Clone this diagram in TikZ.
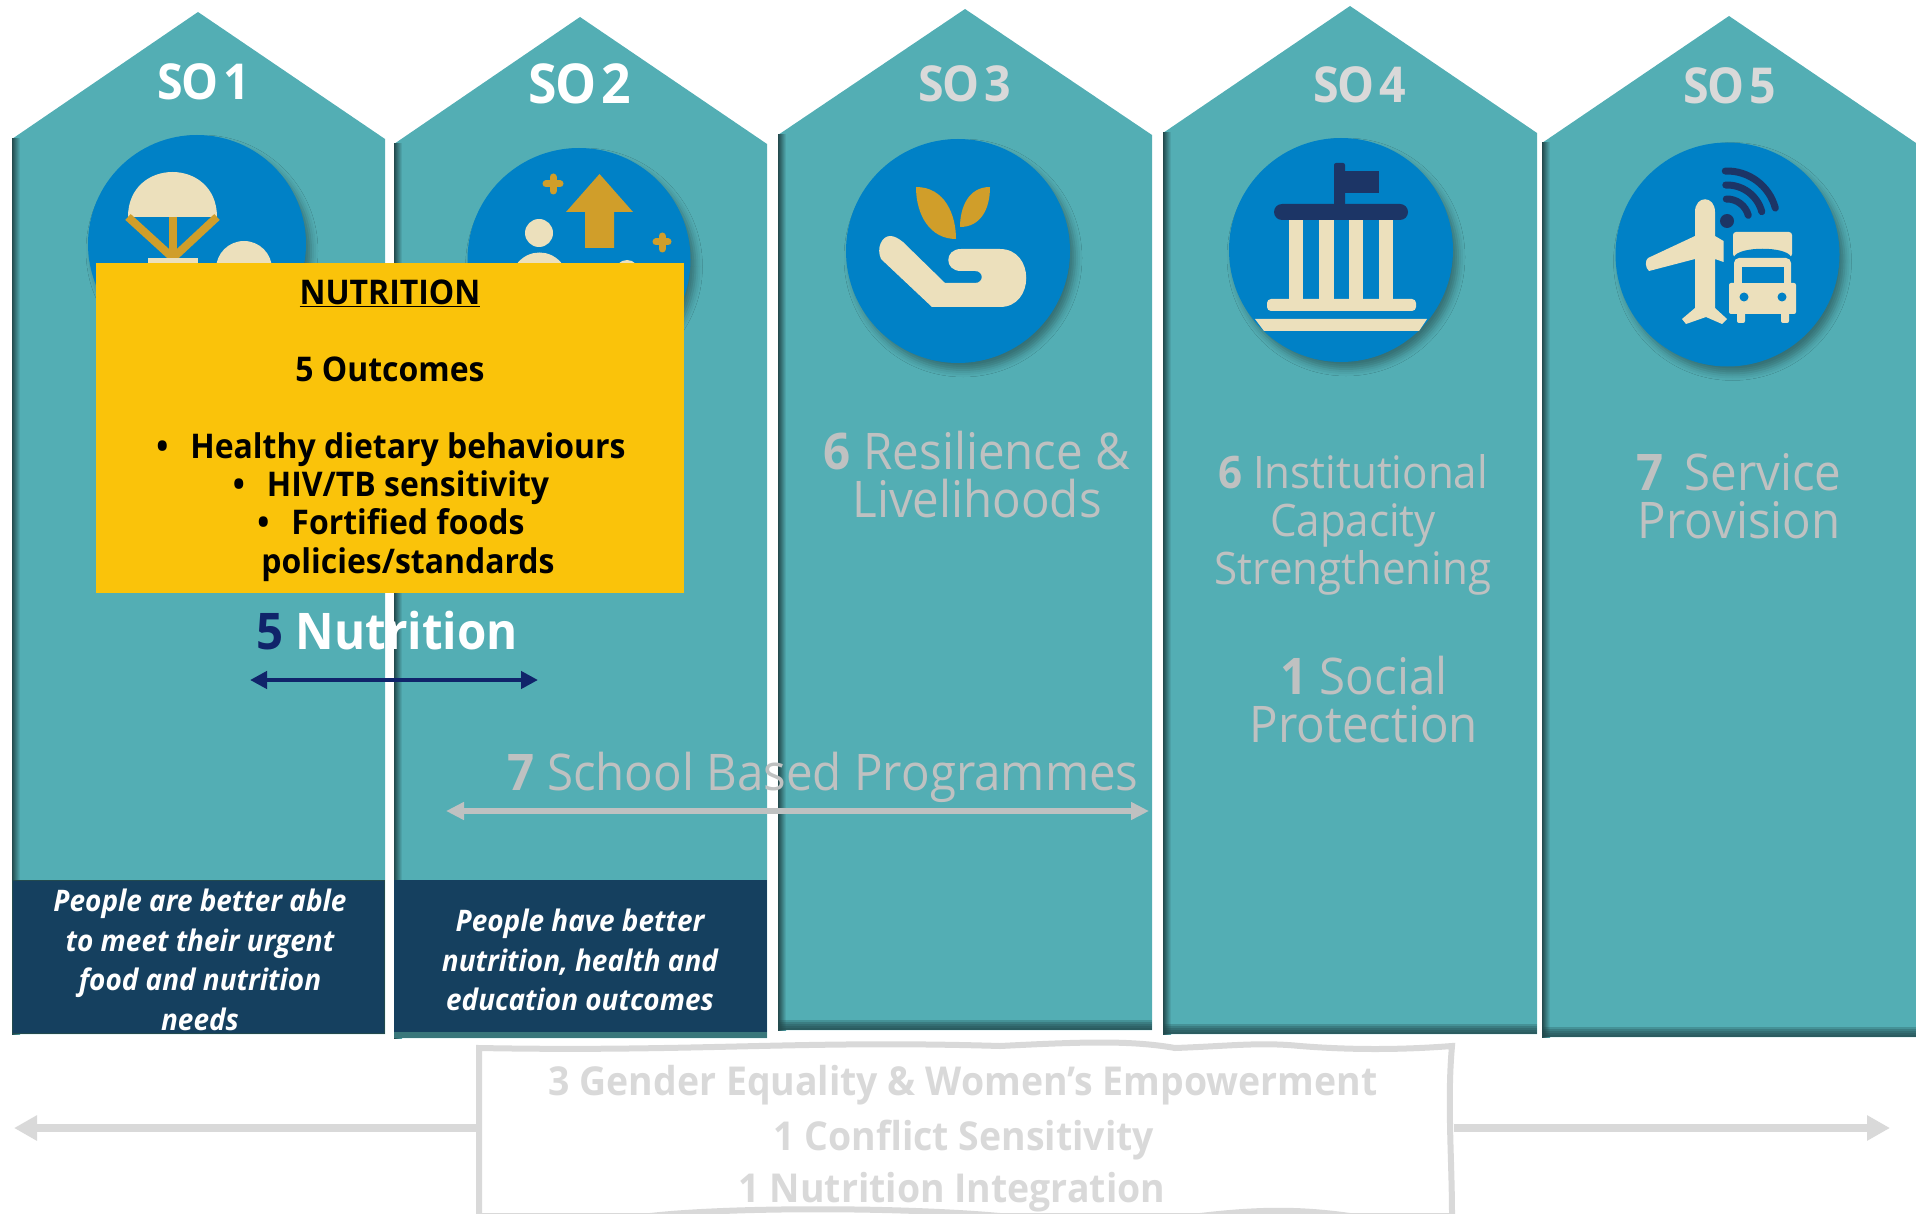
\documentclass[tikz,border=0pt]{standalone}
\usepackage{fontspec}
\setmainfont[FakeStretch=0.94]{Open Sans}
\newfontfamily\headfont[FakeStretch=0.94,LetterSpace=-3,WordSpace=0.45]{Open Sans}
\usepackage{xcolor}
\usetikzlibrary{arrows.meta}
\usetikzlibrary{shadows.blur}

\definecolor{housecol}{HTML}{53AEB4}
\definecolor{edgecol}{HTML}{234A4D}
\definecolor{disccol}{HTML}{0081C6}
\definecolor{creamcol}{HTML}{ECE0BC}
\definecolor{goldcol}{HTML}{D09E2A}
\definecolor{navycol}{HTML}{1C3566}
\definecolor{nutrcol}{HTML}{10246A}
\definecolor{boxcol}{HTML}{15405F}
\definecolor{yellowcol}{HTML}{FAC30A}
\definecolor{greycol}{HTML}{D9D9D9}
\definecolor{labelcol}{HTML}{BFC1C1}

\tikzset{
	sodisc/.style={fill=disccol, blur shadow={shadow xshift=5pt, shadow yshift=-7pt, shadow blur radius=7pt, shadow opacity=35}},
	sohead/.style={font=\headfont\bfseries\fontsize{49.5}{49.5}\selectfont},
	solabel/.style={labelcol, align=center, font=\fontsize{50.5}{48}\selectfont},
	edgeband/.style={edgecol, opacity=0.28},
	goalbox/.style={fill=boxcol, draw=edgecol, line width=1pt},
	goaltext/.style={white, align=center, font=\bfseries\itshape\fontsize{29.7}{39.5}\selectfont},
	yellowtext/.style={black, align=center, font=\bfseries\fontsize{34}{38.3}\selectfont},
	crosstext/.style={greycol, font=\bfseries\fontsize{39.8}{39.8}\selectfont},
	greyarrow/.style={greycol, line width=8pt, -{Triangle[length=23pt,width=24pt]}},
}

\begin{document}
\begin{tikzpicture}[x=1pt, y=-1pt]
	\useasboundingbox (0,0) rectangle (1916,1214);
	
	% SO 1
	\begin{scope}[shift={(12,0)}]
		\fill[housecol] (0,139) -- (186,12) -- (373,139) -- (373,1034) -- (0,1034) -- cycle;
		\shade[left color=edgecol, right color=housecol] (0,139) rectangle (8,1034);
	\end{scope}
	\fill[sodisc] (197,244) circle (109);
	\fill[creamcol] (128,217) .. controls (128,157) and (217,157) .. (217,217) -- cycle;
	\draw[goldcol, line width=8pt] (128,217) -- (173,258) -- (217,217);
	\draw[goldcol, line width=8pt] (173,217) -- (173,258);
	\fill[creamcol] (148,258) rectangle (198,290);
	\fill[creamcol] (244,269) circle (28);
	\node[sohead, white] (so1title) at (204,82) {SO 1};
	\draw[goalbox] (12,880) rectangle (384,1033);
	\node[goaltext] (so1goal) at (200,960) {People are better able\\to meet their urgent\\food and nutrition\\needs};
	
	% SO 2
	\begin{scope}[shift={(394,0)}]
		\fill[housecol] (0,144) -- (186,17) -- (373,144) -- (373,1038) -- (0,1038) -- cycle;
		\shade[left color=edgecol, right color=housecol] (0,144) rectangle (8,1038);
	\end{scope}
	\fill[sodisc] (579,259.5) circle (111.5);
	\fill[goldcol] (599.5,174) -- (633,212) -- (614,212) -- (614,248) -- (585,248) -- (585,212) -- (566,212) -- cycle;
	\draw[goldcol, line width=7pt, line cap=round] (553,177) -- (553,191);
	\draw[goldcol, line width=7pt, line cap=round] (546,184) -- (560,184);
	\draw[goldcol, line width=7pt, line cap=round] (662,236) -- (662,249);
	\draw[goldcol, line width=7pt, line cap=round] (656,242) -- (668,242);
	\fill[creamcol] (539,233) circle (14);
	\fill[creamcol] (509,290) .. controls (509,240) and (570,240) .. (570,290) -- cycle;
	\fill[creamcol] (627,272) circle (12);
	\node[sohead, white, font=\headfont\bfseries\fontsize{55}{55}\selectfont] (so2title) at (580,84) {SO 2};
	\fill[edgecol!55!housecol] (394,1030) rectangle (767,1038);
	\fill[boxcol] (394,880) rectangle (767,1032);
	\node[goaltext] (so2goal) at (580,960) {People have better\\nutrition, health and\\education outcomes};
	
	% SO 3
	\begin{scope}[shift={(778,0)}]
		\fill[housecol] (0,135) -- (187,9) -- (374,135) -- (374,1030) -- (0,1030) -- cycle;
		\shade[left color=edgecol, right color=housecol] (0,135) rectangle (8,1030);
		\fill[edgeband] (0,1028) rectangle (374,1030);
		\fill[edgeband] (0,1026) rectangle (374,1030);
		\fill[edgeband] (0,1024) rectangle (374,1030);
		\fill[edgeband] (0,1022) rectangle (374,1030);
		\fill[edgeband] (0,1020) rectangle (374,1030);
	\end{scope}
	\fill[sodisc] (958,251) circle (112);
	\fill[goldcol] (916,187) .. controls (945,187) and (956,215) .. (956,239) .. controls (930,239) and (916,215) .. (916,187) -- cycle;
	\fill[goldcol] (990,187) .. controls (968,187) and (960,208) .. (960,227) .. controls (980,227) and (990,210) .. (990,187) -- cycle;
	\fill[creamcol] (890,236) .. controls (882,236) and (876,248) .. (881,259) -- (932,307) -- (1000,307) .. controls (1035,307) and (1035,249) .. (1000,249) -- (961,249) .. controls (944,249) and (944,271) .. (961,271) -- (975,271) .. controls (984,271) and (984,283) .. (975,283) -- (945,283) -- (903,242) .. controls (898,238) and (894,236) .. (890,236) -- cycle;
	\node[sohead, greycol] (so3title) at (965,84) {SO 3};
	\node[solabel] (so3text) at (977,475) {\textbf{6} Resilience \&\\Livelihoods};
	
	% SO 4
	\begin{scope}[shift={(1163,0)}]
		\fill[housecol] (0,133) -- (187,6) -- (374,133) -- (374,1034) -- (0,1034) -- cycle;
		\shade[left color=edgecol, right color=housecol] (0,133) rectangle (8,1034);
		\fill[edgeband] (0,1032) rectangle (374,1034);
		\fill[edgeband] (0,1030) rectangle (374,1034);
		\fill[edgeband] (0,1028) rectangle (374,1034);
		\fill[edgeband] (0,1026) rectangle (374,1034);
		\fill[edgeband] (0,1024) rectangle (374,1034);
	\end{scope}
	\fill[sodisc] (1341,250) circle (112);
	\fill[creamcol] (1289,220) rectangle (1303,299);
	\fill[creamcol] (1319,220) rectangle (1334,299);
	\fill[creamcol] (1349,220) rectangle (1363,299);
	\fill[creamcol] (1379,220) rectangle (1393,299);
	\fill[creamcol, rounded corners=4pt] (1267,299) rectangle (1416,311);
	\fill[creamcol] (1255,319) -- (1427,319) -- (1419,331) -- (1264,331) -- cycle;
	\fill[navycol, rounded corners=8pt] (1274,204) rectangle (1408,220);
	\fill[navycol, rounded corners=2pt] (1334,163) rectangle (1345,210);
	\fill[navycol] (1345,171) rectangle (1379,193);
	\node[sohead, greycol] (so4title) at (1360,85) {SO 4};
	\node[solabel, font=\fontsize{44.8}{48}\selectfont] (so4text) at (1353,525) {\textbf{6} Institutional\\Capacity\\Strengthening};
	\node[solabel] (so4text2) at (1364,700) {\textbf{1} Social\\Protection};
	
	% SO 5
	\begin{scope}[shift={(1542,0)}]
		\fill[housecol] (0,143) -- (187,16) -- (374,143) -- (374,1037) -- (0,1037) -- cycle;
		\shade[left color=edgecol, right color=housecol] (0,143) rectangle (8,1037);
		\fill[edgeband] (0,1035) rectangle (374,1037);
		\fill[edgeband] (0,1033) rectangle (374,1037);
		\fill[edgeband] (0,1031) rectangle (374,1037);
		\fill[edgeband] (0,1029) rectangle (374,1037);
		\fill[edgeband] (0,1027) rectangle (374,1037);
	\end{scope}
	\fill[sodisc] (1727.5,254.5) circle (112);
	\fill[creamcol] (1695,212) .. controls (1695,195) and (1715,195) .. (1715,212) -- (1715,236) -- (1723.5,241) -- (1723.5,262) -- (1715,259) -- (1715,308) -- (1727,319) -- (1722,324) -- (1706,317) -- (1686,324) -- (1682,319) -- (1695,308) -- (1695,259) -- (1649,271) .. controls (1645,268) and (1645,260) .. (1648,258) -- (1695,236) -- cycle;
	\fill[creamcol, rounded corners=3pt] (1733,232) rectangle (1792,257);
	\fill[disccol] (1734,257) .. controls (1738,246) and (1787,246) .. (1791,257) -- cycle;
	\fill[creamcol, rounded corners=5pt] (1734,258) rectangle (1791,290);
	\fill[creamcol, rounded corners=2pt] (1729,283) rectangle (1796,314);
	\fill[disccol] (1742,267) rectangle (1784,283);
	\fill[disccol] (1744,297) circle (4.5);
	\fill[disccol] (1782,297) circle (4.5);
	\fill[creamcol, rounded corners=2pt] (1737,312) rectangle (1745,323);
	\fill[creamcol, rounded corners=2pt] (1781,312) rectangle (1789,323);
	\fill[navycol] (1727,221) circle (7);
	\draw[navycol, line width=7pt, line cap=round] (1727,221) ++(-92:22) arc (-92:-15:22);
	\draw[navycol, line width=7pt, line cap=round] (1727,221) ++(-92:36) arc (-92:-15:36);
	\draw[navycol, line width=7pt, line cap=round] (1727,221) ++(-92:50) arc (-92:-15:50);
	\node[sohead, greycol] (so5title) at (1730,86) {SO 5};
	\node[solabel] (so5text) at (1739,496) {\textbf{7}\, Service\\Provision};
	
	% yellow box over SO 1 and SO 2
	\fill[yellowcol] (96,263) rectangle (684,593);
	\node[yellowtext] (nutrhead) at (390,293) {\underline{NUTRITION}};
	\node[yellowtext] (nutrcount) at (390,369) {5 Outcomes};
	\node[yellowtext] (nutrlist) at (408,507) {\llap{\textbullet\hspace{22pt}}Healthy dietary behaviours\\\llap{\textbullet\hspace{22pt}}HIV/TB sensitivity\\\llap{\textbullet\hspace{22pt}}Fortified foods\\policies/standards};
	
	\node[font=\bfseries\fontsize{50.5}{50.5}\selectfont, white] (nutrlabel) at (387,631) {\textcolor{nutrcol}{5} Nutrition};
	\coordinate (nutrleft) at (250,680);
	\coordinate (nutrright) at (538,680);
	\draw[nutrcol, line width=4.5pt, {Triangle[length=17pt,width=17pt]}-{Triangle[length=17pt,width=17pt]}] (nutrleft) -- (nutrright);
	
	\node[solabel] (schoollabel) at (823,777) {\textbf{7} School Based Programmes};
	\coordinate (schoolleft) at (446,811);
	\coordinate (schoolright) at (1149,811);
	\draw[labelcol, line width=5.5pt, {Triangle[length=18pt,width=17pt]}-{Triangle[length=18pt,width=17pt]}] (schoolleft) -- (schoolright);
	
	% cross cutting box
	\draw[greycol, line width=6pt] (479,1048) .. controls (700,1052) and (800,1040) .. (1000,1046) .. controls (1080,1042) and (1130,1040) .. (1175,1048) .. controls (1230,1046) and (1260,1042) .. (1300,1046) .. controls (1350,1050) and (1400,1050) .. (1452,1046) .. controls (1447,1100) and (1452,1160) .. (1452,1216) -- (1350,1216) .. controls (1300,1209) and (1260,1209) .. (1200,1216) -- (1000,1216) .. controls (900,1207) and (730,1207) .. (650,1216) -- (479,1216) -- cycle;
	\node[crosstext] (gendertext) at (963,1085) {3 Gender Equality \& Women’s Empowerment};
	\node[crosstext] (conflicttext) at (964,1140) {1 Conflict Sensitivity};
	\node[crosstext] (integrtext) at (952,1192) {1 Nutrition Integration};
	
	\coordinate (wavyleft) at (476,1128);
	\coordinate (wavyright) at (1454,1128);
	\coordinate (crossleft) at (14,1128);
	\coordinate (crossright) at (1890,1128);
	\draw[greyarrow] (wavyleft) -- (crossleft);
	\draw[greyarrow] (wavyright) -- (crossright);
	
\end{tikzpicture}
\end{document}
